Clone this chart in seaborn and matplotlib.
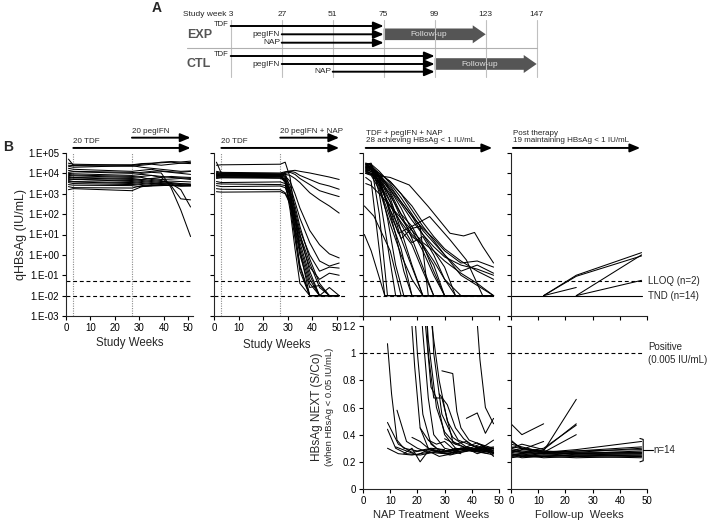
import matplotlib
matplotlib.use("Agg")
import matplotlib.pyplot as plt
import matplotlib.transforms as mtransforms
from matplotlib.patches import Polygon
import numpy as np
import pandas as pd
import seaborn as sns

# ======================
# Panel A: study schedule
# ======================
schedule_weeks = [3, 27, 51, 75, 99, 123, 147]
drugs = ["TDF", "pegIFN", "NAP"]
exp_start = [3, 27, 27]
exp_stop = 75
exp_followup = [75, 123]
ctl_start = [3, 27, 51]
ctl_stop = 99
ctl_followup = [99, 147]

# ======================
# Panel B: qHBsAg (log10 IU/mL)
# ======================
ctl_weeks = [1, 3, 27, 31, 35, 39, 43, 47, 51]
ctl_log = [
    [4.70, 4.40, 4.42, 4.48, 4.50, 4.52, 4.55, 4.50, 4.54],
    [4.50, 4.45, 4.40, 4.45, 4.48, 4.55, 4.58, 4.56, 4.60],
    [4.40, 4.38, 4.35, 4.40, 4.45, 4.40, 4.45, 4.50, 4.48],
    [4.35, 4.30, 4.38, 4.30, 4.25, 4.20, 4.15, 4.10, 4.12],
    [4.25, 4.20, 4.10, 4.15, 4.20, 4.10, 4.05, 4.00, 3.95],
    [4.15, 4.10, 4.05, 4.00, 4.05, 4.02, 3.30, 2.20, 0.90],
    [4.05, 4.08, 4.00, 4.05, 4.10, 4.12, 4.08, 4.05, 4.10],
    [4.00, 3.98, 3.90, 3.95, 3.90, 3.85, 3.80, 3.78, 3.75],
    [3.95, 3.92, 3.85, 3.80, 3.70, 3.65, 3.50, 3.20, 2.35],
    [3.90, 3.88, 3.80, 3.85, 3.90, 3.80, 3.40, 2.75, 2.70],
    [3.85, 3.80, 3.75, 3.70, 3.75, 3.80, 3.85, 3.82, 3.80],
    [3.80, 3.78, 3.70, 3.65, 3.60, 3.55, 3.50, 3.48, 3.45],
    [3.75, 3.70, 3.65, 3.70, 3.75, 3.70, 3.72, 3.75, 3.70],
    [3.70, 3.72, 3.60, 3.55, 3.50, 3.52, 3.55, 3.50, 3.48],
    [3.65, 3.60, 3.55, 3.60, 3.65, 3.60, 3.62, 3.60, 3.58],
    [3.60, 3.58, 3.50, 3.45, 3.40, 3.45, 3.42, 3.40, 3.42],
    [3.55, 3.50, 3.45, 3.50, 3.55, 3.50, 3.48, 3.45, 3.40],
    [3.45, 3.42, 3.40, 3.35, 3.38, 3.40, 3.42, 3.40, 3.38],
    [3.35, 3.30, 3.28, 3.40, 3.45, 3.42, 3.40, 3.38, 3.40],
    [3.20, 3.25, 3.15, 3.35, 3.40, 3.45, 3.42, 3.38, 3.40],
]

exp_weeks = [1, 3, 27, 29, 31, 33, 35, 39, 43, 47, 51]
exp_log = [
    [4.55, 4.00, 3.95, 4.00, 3.20, 1.20, -0.60, -2.00, -2.00, -2.00, -2.00],
    [4.40, 4.42, 4.45, 4.55, 3.80, 2.00, 0.20, -2.00, -2.00, -2.00, -2.00],
    [4.10, 4.05, 4.02, 4.08, 4.12, 4.15, 4.10, 4.02, 3.92, 3.82, 3.70],
    [4.05, 4.00, 3.98, 4.05, 4.10, 4.05, 3.90, 3.70, 3.50, 3.38, 3.22],
    [4.00, 4.02, 3.96, 4.00, 4.05, 3.95, 3.75, 3.45, 3.15, 3.00, 2.86],
    [3.98, 3.95, 3.94, 3.95, 3.90, 3.75, 3.55, 3.05, 2.70, 2.40, 2.05],
    [3.96, 3.92, 3.92, 3.88, 3.60, 3.00, 2.30, 1.20, 0.50, 0.05, -0.15],
    [3.95, 3.98, 3.90, 3.85, 3.40, 2.60, 1.80, 0.60, -0.30, -0.55, -0.40],
    [3.92, 3.90, 3.88, 3.80, 3.10, 2.20, 1.20, 0.00, -0.80, -0.60, -0.65],
    [3.90, 3.88, 3.86, 3.70, 2.90, 1.80, 0.80, -0.60, -1.20, -0.90, -1.00],
    [3.88, 3.92, 3.90, 3.60, 2.40, 0.80, -0.80, -2.00, -2.00, -2.00, -2.00],
    [3.85, 3.86, 3.84, 3.55, 2.20, 0.30, -1.40, -2.00, -2.00, -2.00, -2.00],
    [3.82, 3.80, 3.82, 3.75, 3.00, 1.60, 0.40, -1.20, -2.00, -2.00, -2.00],
    [3.80, 3.84, 3.78, 3.70, 2.80, 1.30, 0.00, -1.60, -1.50, -2.00, -2.00],
    [3.75, 3.78, 3.76, 3.65, 3.20, 2.40, 1.40, -0.20, -1.40, -2.00, -2.00],
    [3.60, 3.55, 3.58, 3.50, 2.60, 1.00, -0.50, -2.00, -2.00, -2.00, -2.00],
    [3.50, 3.48, 3.45, 3.40, 3.00, 2.00, 1.00, -0.80, -2.00, -1.60, -2.00],
    [3.40, 3.35, 3.38, 3.30, 2.70, 1.70, 0.60, -1.00, -2.00, -2.00, -2.00],
    [3.25, 3.22, 3.20, 3.05, 2.60, 1.90, 1.00, -0.40, -1.60, -2.00, -2.00],
    [3.10, 3.08, 3.10, 3.00, 2.50, 1.40, 0.20, -1.40, -2.00, -2.00, -2.00],
]

nap_weeks = [
    [1, 3, 6, 9, 48], [1, 3, 6, 9, 12, 48], [1, 3, 6, 9, 12, 15, 48],
    [1, 3, 6, 9, 12, 15, 18, 48], [1, 3, 6, 10, 14, 18, 22, 48],
    [1, 3, 6, 10, 14, 18, 22, 26, 48], [1, 3, 6, 10, 14, 18, 22, 26, 30, 48],
    [1, 3, 6, 10, 14, 18, 22, 26, 30, 48], [1, 3, 6, 10, 14, 18, 22, 26, 30, 34, 48],
    [1, 3, 6, 10, 14, 18, 22, 26, 30, 34, 48], [1, 3, 6, 10, 14, 18, 22, 48],
    [1, 3, 8, 48], [0.5, 4, 10, 14, 48], [0.5, 3, 8, 48],
    [1, 3, 6, 10, 14, 18, 22, 26, 30, 36, 48],
    [1, 4, 10, 17, 24, 32, 37, 41, 44, 48],
    [1, 3, 6, 10, 13, 18, 24.5, 32, 38, 44, 48],
    [1, 3, 6, 10, 14, 18, 22, 26, 30, 36, 42, 48],
    [1, 3, 6, 10, 14, 18, 22, 26, 30, 36, 42, 48],
    [1, 3, 6, 10, 14, 18, 22, 26, 30, 36, 42, 48],
    [1, 3, 6, 10, 14, 18, 22, 26, 30, 36, 48],
    [1, 3, 6, 10, 14, 18, 22, 48], [1, 3, 6, 10, 14, 18, 48],
    [1, 3, 6, 10, 14, 18, 22, 26, 30, 48], [1, 3, 6, 10, 14, 18, 22, 26, 48],
    [1, 3, 6, 10, 14, 18, 21, 24, 48],
    [1, 3, 6, 10, 14, 18, 22, 26, 30, 36, 42, 48],
    [1, 3, 6, 10, 14, 18, 22, 26, 30, 36, 42, 48],
]
nap_log = [
    [4.50, 4.45, 2.00, -2.00, -2.00],
    [4.45, 4.50, 3.00, 0.50, -2.00, -2.00],
    [4.40, 4.30, 3.50, 1.80, -0.50, -2.00, -2.00],
    [4.35, 4.20, 3.80, 2.50, 1.00, -0.80, -2.00, -2.00],
    [4.30, 4.40, 3.90, 2.80, 1.20, -0.50, -2.00, -2.00],
    [4.25, 4.10, 3.60, 2.90, 2.00, 0.80, -0.60, -2.00, -2.00],
    [4.20, 4.35, 4.00, 3.20, 2.30, 1.20, 0.20, -1.00, -2.00, -2.00],
    [4.15, 4.00, 3.70, 3.00, 1.80, 1.00, 0.50, -0.80, -2.00, -2.00],
    [4.10, 4.20, 3.90, 3.40, 2.60, 1.90, 1.00, 0.20, -0.60, -2.00, -2.00],
    [4.05, 3.95, 3.50, 2.60, 1.50, 0.60, 0.90, 0.00, -1.20, -2.00, -2.00],
    [4.00, 3.90, 3.20, 1.50, 0.00, -1.20, -2.00, -2.00],
    [3.80, 3.60, -2.00, -2.00],
    [2.40, 1.90, 0.20, -2.00, -2.00],
    [1.00, 0.20, -2.00, -2.00],
    [4.45, 4.30, 4.00, 3.60, 3.00, 2.20, 1.40, 0.70, 0.00, -1.00, -2.00],
    [4.00, 3.92, 3.80, 3.43, 2.37, 1.06, 0.93, 1.10, 0.41, -0.40],
    [4.30, 4.20, 3.50, 2.20, 1.06, 1.40, 1.88, 0.74, -0.25, -2.00, -2.00],
    [4.35, 4.25, 3.90, 3.30, 2.60, 1.90, 1.30, 0.80, 0.20, -0.40, -0.30, -0.60],
    [4.20, 4.10, 3.80, 3.20, 2.50, 1.70, 1.00, 0.40, -0.10, -0.50, -0.70, -1.00],
    [4.40, 4.45, 4.10, 3.50, 2.80, 2.00, 1.20, 0.60, 0.00, -0.80, -0.50, -0.90],
    [4.10, 4.00, 3.40, 2.40, 1.60, 0.90, 0.50, -0.30, -1.20, -2.00, -2.00],
    [4.30, 4.35, 3.80, 2.60, 0.80, -0.60, -2.00, -2.00],
    [4.50, 4.20, 3.30, 1.80, 0.30, -2.00, -2.00],
    [4.00, 4.10, 3.90, 3.10, 2.00, 1.40, 0.40, -0.50, -2.00, -2.00],
    [4.25, 4.30, 3.60, 2.20, 1.20, 0.50, -0.80, -2.00, -2.00],
    [4.45, 4.40, 3.70, 2.00, 0.80, 1.30, 1.40, -2.00, -2.00],
    [3.50, 3.40, 3.00, 2.40, 1.80, 1.20, 0.60, 0.20, -0.30, -0.90, -1.40, -2.00],
    [4.15, 4.20, 4.00, 3.60, 3.00, 2.40, 1.60, 0.90, 0.30, -0.30, -0.80, -1.20],
]

fu_weeks = [[12, 24, 48], [12, 24, 48], [12, 24], [24, 48], [24, 48]]
fu_log = [[-2.0, -1.0, 0.11], [-2.0, -1.05, -0.05], [-2.0, -1.6], [-2.0, 0.0], [-2.0, -1.25]]

# ======================
# Panel B: HBsAg NEXT (S/Co)
# ======================
next_nap_weeks = [
    [9, 10.5, 12.5, 15, 20, 25, 30],
    [9, 13, 18, 24, 30, 36, 42, 48],
    [9, 12, 16, 21, 26, 31, 36],
    [9, 13, 18, 24, 30, 36, 42, 48],
    [12.5, 16, 20, 24, 30, 36, 42, 48],
    [17, 19, 21, 24, 28, 33, 38, 43, 48],
    [18, 20, 22, 25, 29, 34, 40, 46],
    [20, 22, 24, 26, 30, 36, 42, 48],
    [21, 23, 25, 27, 30, 34, 40, 48],
    [22, 24, 26, 29, 33, 38, 44, 48],
    [22, 24, 27, 30, 34, 40, 46],
    [23, 25, 28, 31, 35, 40, 45, 48],
    [24, 26, 29, 33, 38, 43, 48],
    [29, 33, 34.5, 36, 39, 43, 48],
    [28, 31, 34, 37, 41, 45, 48],
    [41, 43, 45, 48],
    [38, 42, 45, 48],
    [30, 34, 38, 42, 45, 48],
    [12, 16, 20, 24, 28, 32, 36, 40, 44, 48],
    [15, 18, 21, 24, 28, 33, 38, 43, 48],
    [18, 21, 24, 28, 32, 36, 40, 44, 48],
    [21, 24, 27, 30, 34, 38, 42, 46, 48],
    [24, 27, 30, 34, 38, 42, 45, 48],
]
next_nap = [
    [1.07, 0.70, 0.36, 0.30, 0.28, 0.30, 0.29],
    [0.49, 0.33, 0.27, 0.29, 0.27, 0.30, 0.28, 0.30],
    [0.44, 0.30, 0.26, 0.25, 0.27, 0.28, 0.26],
    [0.30, 0.26, 0.25, 0.27, 0.28, 0.30, 0.29, 0.26],
    [0.58, 0.35, 0.30, 0.27, 0.26, 0.28, 0.30, 0.27],
    [1.50, 0.90, 0.45, 0.30, 0.28, 0.27, 0.31, 0.28, 0.27],
    [1.60, 1.00, 0.55, 0.33, 0.27, 0.30, 0.28, 0.26],
    [1.70, 1.15, 0.67, 0.40, 0.30, 0.27, 0.29, 0.31],
    [1.80, 1.20, 0.75, 0.67, 0.40, 0.30, 0.28, 0.30],
    [1.90, 1.00, 0.67, 0.67, 0.35, 0.30, 0.27, 0.29],
    [1.70, 1.10, 0.60, 0.42, 0.33, 0.29, 0.31],
    [1.80, 1.25, 0.80, 0.50, 0.36, 0.32, 0.30, 0.28],
    [1.90, 1.00, 0.55, 0.38, 0.31, 0.29, 0.27],
    [0.87, 0.85, 0.57, 0.45, 0.36, 0.33, 0.30],
    [0.70, 0.62, 0.45, 0.37, 0.31, 0.29, 0.27],
    [1.50, 0.95, 0.60, 0.48],
    [0.52, 0.56, 0.41, 0.52],
    [0.37, 0.33, 0.35, 0.30, 0.32, 0.36],
    [0.31, 0.28, 0.25, 0.29, 0.27, 0.26, 0.30, 0.28, 0.27, 0.25],
    [0.26, 0.30, 0.20, 0.28, 0.24, 0.26, 0.29, 0.33, 0.28],
    [0.38, 0.35, 0.30, 0.27, 0.25, 0.27, 0.29, 0.32, 0.24],
    [0.45, 0.36, 0.30, 0.28, 0.29, 0.31, 0.34, 0.29, 0.26],
    [0.36, 0.33, 0.35, 0.28, 0.30, 0.26, 0.28, 0.30],
]

next_fu_weeks = [[0, 4, 12], [0, 4, 12, 24], [0, 4, 12, 24], [0, 4, 12, 24],
                 [0, 4, 12, 24], [0, 4, 12]] + [[0, 4, 12, 24, 48]] * 14
next_fu = [
    [0.48, 0.40, 0.48],
    [0.35, 0.30, 0.28, 0.66],
    [0.30, 0.33, 0.29, 0.48],
    [0.28, 0.27, 0.30, 0.47],
    [0.33, 0.31, 0.27, 0.40],
    [0.36, 0.29, 0.35],
    [0.30, 0.28, 0.27, 0.29, 0.35],
    [0.28, 0.27, 0.26, 0.28, 0.31],
    [0.27, 0.29, 0.28, 0.27, 0.30],
    [0.31, 0.30, 0.27, 0.28, 0.29],
    [0.26, 0.25, 0.27, 0.26, 0.28],
    [0.29, 0.27, 0.26, 0.27, 0.27],
    [0.25, 0.26, 0.25, 0.26, 0.27],
    [0.27, 0.26, 0.28, 0.25, 0.26],
    [0.28, 0.30, 0.26, 0.26, 0.26],
    [0.24, 0.25, 0.24, 0.25, 0.25],
    [0.26, 0.24, 0.25, 0.24, 0.25],
    [0.23, 0.24, 0.24, 0.25, 0.24],
    [0.25, 0.23, 0.24, 0.23, 0.24],
    [0.24, 0.25, 0.23, 0.24, 0.23],
]

lloq = 0.05
tnd = 0.01
next_cutoff = 1.0
qhbsag_ticks = ["1.E-03", "1.E-02", "1.E-01", "1.E+00", "1.E+01", "1.E+02", "1.E+03", "1.E+04", "1.E+05"]
next_ticks = ["0", "0.2", "0.4", "0.6", "0.8", "1", "1.2"]
week_ticks = [0, 10, 20, 30, 40, 50]


def to_long(weeks_list, values_list, log=False):
    rows = []
    for pid, (wk, vals) in enumerate(zip(weeks_list, values_list)):
        for w, v in zip(wk, vals):
            rows.append((pid, w, 10 ** v if log else v))
    return pd.DataFrame(rows, columns=["patient", "week", "value"])


sns.set_style("ticks")
plt.rcParams["font.family"] = ["Liberation Sans", "DejaVu Sans"]
plt.rcParams["axes.linewidth"] = 0.8

W, H = 709, 524
fig = plt.figure(figsize=(W / 100, H / 100), dpi=100)


def px_axes(x0, y0, x1, y1):
    return fig.add_axes([x0 / W, 1 - y1 / H, (x1 - x0) / W, (y1 - y0) / H])


# ======================
# Panel A
# ======================
axa = px_axes(150, 0, 600, 90)
axa.set_xlim(-35, 176.8)
axa.set_ylim(90, 0)
axa.axis("off")

for wk in schedule_weeks:
    axa.plot([wk, wk], [20, 77], color="#c0c0c0", lw=0.8)
    label = "Study week 3" if wk == schedule_weeks[0] else str(wk)
    axa.text(wk + (1.3 if wk == schedule_weeks[0] else 0), 14, label,
             ha="right" if wk == schedule_weeks[0] else "center", va="center", fontsize=6)
axa.plot([-17.6, schedule_weeks[-1]], [48.3, 48.3], color="#b0b0b0", lw=0.8)


def schedule_arrow(x0, x1, y):
    axa.annotate("", xy=(x1, y), xytext=(x0, y),
                 arrowprops=dict(arrowstyle="-|>,head_length=0.6,head_width=0.25", color="black",
                                 lw=1.4, shrinkA=0, shrinkB=0, mutation_scale=10))


def followup_arrow(x0, x1, y):
    head = 6.1
    pts = [(x0, y - 5.8), (x1 - head, y - 5.8), (x1 - head, y - 9), (x1, y),
           (x1 - head, y + 9), (x1 - head, y + 5.8), (x0, y + 5.8)]
    axa.add_patch(Polygon(pts, closed=True, fc="#555555", ec="none"))
    axa.text((x0 + x1 - head) / 2, y, "Follow-up", color="#e0e0e0", ha="center", va="center", fontsize=6)


for group, starts, stop, fu, rows in [("EXP", exp_start, exp_stop, exp_followup, [26, 34.3, 42.7]),
                                      ("CTL", ctl_start, ctl_stop, ctl_followup, [56, 64, 71.7])]:
    axa.text(-17.6, rows[1] + 0.3, group, fontsize=9, fontweight="bold", color="#555555",
             ha="left", va="center")
    for drug, s, y in zip(drugs, starts, rows):
        schedule_arrow(s, stop, y)
        if drug == "TDF":
            axa.text(s - 0.8, y - 1.5, drug, fontsize=5.5, ha="right", va="center")
        else:
            axa.text(s - 0.8, y, drug, fontsize=6, ha="right", va="center")
    followup_arrow(fu[0], fu[1], rows[1])

fig.text(157 / W, 1 - 8 / H, "A", fontsize=10, fontweight="bold", ha="center", va="center")
fig.text(8 / W, 1 - 147 / H, "B", fontsize=10, fontweight="bold", ha="center", va="center")

# ======================
# Panel B axes
# ======================
ax1 = px_axes(66, 153, 193, 316)
ax2 = px_axes(214, 153, 362, 316)
ax3 = px_axes(363, 153, 499, 316)
ax4 = px_axes(511, 153, 647, 316)
bx3 = px_axes(363, 326, 499, 489)
bx4 = px_axes(511, 326, 647, 489)

line_kw = dict(x="week", y="value", units="patient", estimator=None, color="black",
               lw=0.75, legend=False)

sns.lineplot(data=to_long([ctl_weeks] * len(ctl_log), ctl_log, log=True), ax=ax1, **line_kw)
sns.lineplot(data=to_long([exp_weeks] * len(exp_log), exp_log, log=True), ax=ax2, **line_kw)
sns.lineplot(data=to_long(nap_weeks, nap_log, log=True), ax=ax3, **line_kw)
sns.lineplot(data=to_long(fu_weeks, fu_log, log=True), ax=ax4, **line_kw)
sns.lineplot(data=to_long(next_nap_weeks, next_nap), ax=bx3, **line_kw)
sns.lineplot(data=to_long(next_fu_weeks, next_fu), ax=bx4, **line_kw)

dash_kw = dict(color="black", lw=0.8, ls=(0, (3.5, 2.5)), zorder=1)
for ax, xend in [(ax1, 51.5), (ax2, 54), (ax3, 48)]:
    ax.plot([0, xend], [lloq, lloq], **dash_kw)
    ax.plot([0, xend], [tnd, tnd], **dash_kw)
ax4.plot([0, 48], [lloq, lloq], **dash_kw)
ax4.plot([0, 48], [tnd, tnd], color="black", lw=0.8, zorder=1)
for ax in (bx3, bx4):
    ax.plot([0, 48], [next_cutoff, next_cutoff], **dash_kw)

for ax in (ax1, ax2):
    for wk in (exp_start[0], exp_start[1]):
        ax.axvline(wk, color="#8a8a8a", ls=(0, (1, 1.2)), lw=0.8, zorder=0)

for ax, xmax in [(ax1, 52), (ax2, 60.3), (ax3, 50), (ax4, 50)]:
    ax.set_yscale("log")
    ax.set_ylim(1e-3, 1e5)
    ax.set_xlim(0, xmax)
    ax.set_yticks([10.0 ** e for e in range(-3, 6)])
    ax.minorticks_off()
    ax.set_yticklabels(qhbsag_ticks if ax is ax1 else [])
    ax.set_xticks(week_ticks)
    ax.set_xticklabels(week_ticks if ax in (ax1, ax2) else [])

for ax in (bx3, bx4):
    ax.set_xlim(0, 50)
    ax.set_ylim(0, 1.2)
    ax.set_yticks([0, 0.2, 0.4, 0.6, 0.8, 1.0, 1.2])
    ax.set_yticklabels(next_ticks if ax is bx3 else [])
    ax.set_xticks(week_ticks)
    ax.set_xticklabels(week_ticks)

for ax in (ax1, ax2, ax3, ax4, bx3, bx4):
    sns.despine(ax=ax)
    ax.tick_params(direction="out", length=3, width=0.8, labelsize=7, pad=2, colors="black")
    ax.set_xlabel("")
    ax.set_ylabel("")

ax1.set_xlabel("Study Weeks", fontsize=8.3, labelpad=3)
ax2.set_xlabel("Study Weeks", fontsize=8.3, labelpad=3)
ax2.xaxis.set_label_coords(63 / 148, -0.14)
bx3.set_xlabel("NAP Treatment  Weeks", fontsize=8, labelpad=3)
bx4.set_xlabel("Follow-up  Weeks", fontsize=8, labelpad=3)

fig.text(21 / W, 1 - 235 / H, "qHBsAg (IU/mL)", rotation=90, fontsize=9, ha="center", va="center")
fig.text(317 / W, 1 - 407 / H, "HBsAg NEXT (S/Co)", rotation=90, fontsize=8.5, ha="center", va="center")
fig.text(329 / W, 1 - 407 / H, "(when HBsAg < 0.05 IU/mL)", rotation=90, fontsize=6.8,
         ha="center", va="center")


# ======================
# Phase headers above the panels
# ======================
def header_arrow(ax, x0, x1, yfrac):
    tr = mtransforms.blended_transform_factory(ax.transData, ax.transAxes)
    ax.annotate("", xy=(x1, yfrac), xytext=(x0, yfrac), xycoords=tr, textcoords=tr,
                annotation_clip=False,
                arrowprops=dict(arrowstyle="-|>,head_length=0.6,head_width=0.25", color="black",
                                lw=1.4, shrinkA=0, shrinkB=0, mutation_scale=10))


def header_text(ax, x, yfrac, txt):
    tr = mtransforms.blended_transform_factory(ax.transData, ax.transAxes)
    ax.text(x, yfrac, txt, transform=tr, fontsize=5.8, ha="left", va="bottom", linespacing=1.05)


for ax, upper in [(ax1, "20 pegIFN"), (ax2, "20 pegIFN + NAP")]:
    header_arrow(ax, exp_start[0], 51, 1.031)
    header_arrow(ax, exp_start[1], 51, 1.094)
    header_text(ax, exp_start[0], 1.052, "20 TDF")
    header_text(ax, exp_start[1], 1.113, upper)

header_arrow(ax3, 1, 47.5, 1.031)
header_text(ax3, 1, 1.055, "TDF + pegIFN + NAP\n28 achieving HBsAg < 1 IU/mL")
header_arrow(ax4, 0.7, 47.5, 1.031)
header_text(ax4, 0.7, 1.055, "Post therapy\n19 maintaining HBsAg < 1 IU/mL")

# ======================
# Right-hand annotations
# ======================
ax4.text(50.4, lloq, "LLOQ (n=2)", fontsize=7, ha="left", va="center", clip_on=False)
ax4.text(50.4, tnd, "TND (n=14)", fontsize=7, ha="left", va="center", clip_on=False)
bx4.text(50.4, next_cutoff, "Positive\n(0.005 IU/mL)", fontsize=7, ha="left", va="center",
         linespacing=1.35, clip_on=False)
bx4.plot([47.4, 48.6, 48.6, 47.4], [0.372, 0.365, 0.208, 0.200], color="black", lw=0.8, clip_on=False)
bx4.plot([48.6, 52.2], [0.29, 0.29], color="black", lw=0.8, clip_on=False)
bx4.text(52.4, 0.29, "n=14", fontsize=7, ha="left", va="center", clip_on=False)

fig.savefig("out.png", dpi=100)
